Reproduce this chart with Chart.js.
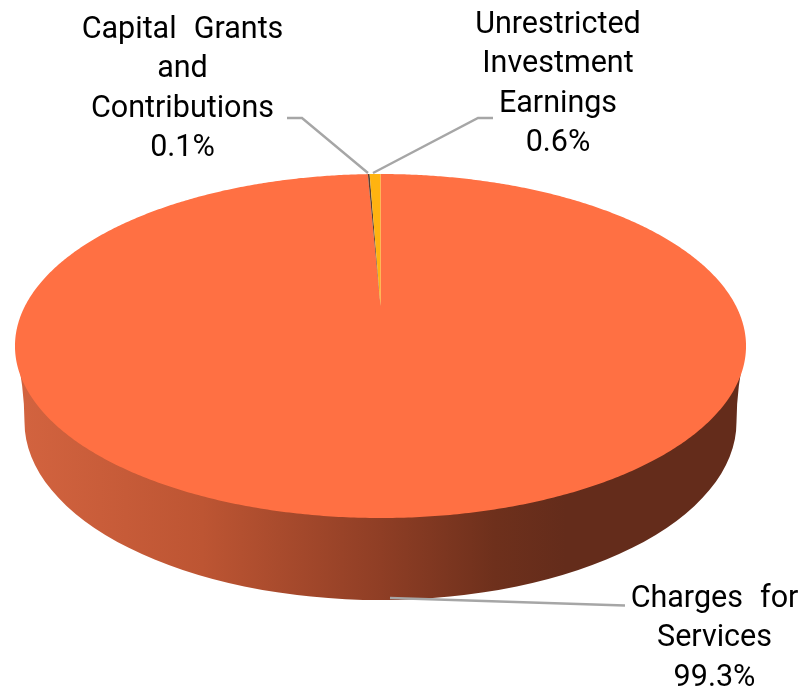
<!DOCTYPE html>
<html>
<head>
<meta charset="utf-8">
<title>Revenue sources</title>
<script src="https://cdn.jsdelivr.net/npm/chart.js@4/dist/chart.umd.js"></script>
<style>
    html, body { margin: 0; padding: 0; background: #fff; }
    canvas { display: block; }
</style>
</head>
<body>
<canvas id="pieChart" width="803" height="691"></canvas>
<script>
const categories = ['Charges for Services', 'Capital Grants and Contributions', 'Unrestricted Investment Earnings'];
const shares = [99.3, 0.1, 0.6];
const sliceColors = ['#FF7043', '#5D4030', '#FFB310'];
// wrapped the way the labels are wrapped in the picture
const labelLines = [
    ['Charges for', 'Services'],
    ['Capital Grants', 'and', 'Contributions'],
    ['Unrestricted', 'Investment', 'Earnings']
];

// where each label block sits: centre x, first baseline
const labelPos = [
    { x: 714.5, y: 607 },
    { x: 182.5, y: 38 },
    { x: 558, y: 33 }
];
const LINE_HEIGHT = 39.4;

// leader lines, from the pie out to the label
const leaders = [
    [[390, 598], [625, 605.5]],
    [[368, 173], [302, 118], [287, 118]],
    [[373, 173], [478, 118], [493, 118]]
];

// the lid of the pie is a circle seen in perspective, so the centre
// sits above the middle of the ellipse
const lid = { cx: 380.5, cy: 306, a: 355.5, b: 162.7, c: -0.2326 };
const rim = { cx: 380.5, cy: 422, rx: 356, ry: 178 };

function project(angle, r) {
    const u = Math.cos(angle) * r;
    const v = Math.sin(angle) * r;
    const w = 1 + lid.c * v;
    return [lid.cx + lid.a * u / w, lid.cy + lid.b * v / w];
}

function drawWall(ctx) {
    const grad = ctx.createLinearGradient(24, 0, 737, 0);
    grad.addColorStop(0, '#D2633F');
    grad.addColorStop(0.25, '#BD5533');
    grad.addColorStop(0.5, '#8F3E25');
    grad.addColorStop(0.66, '#6E301C');
    grad.addColorStop(0.76, '#642C1B');
    grad.addColorStop(1, '#642C1B');
    ctx.beginPath();
    ctx.moveTo(15, 345);
    ctx.quadraticCurveTo(rim.cx - rim.rx, 388, rim.cx - rim.rx, rim.cy);
    ctx.ellipse(rim.cx, rim.cy, rim.rx, rim.ry, 0, Math.PI, 0, true);
    ctx.quadraticCurveTo(rim.cx + rim.rx, 388, 746, 345);
    ctx.closePath();
    ctx.fillStyle = grad;
    ctx.fill();
}

function drawSlice(ctx, arc, color) {
    const { startAngle, endAngle } = arc.getProps(['startAngle', 'endAngle'], true);
    const steps = Math.max(2, Math.ceil((endAngle - startAngle) * 120));
    ctx.beginPath();
    ctx.moveTo(...project(0, 0));
    for (let i = 0; i <= steps; i++) {
        ctx.lineTo(...project(startAngle + (endAngle - startAngle) * i / steps, 1));
    }
    ctx.closePath();
    ctx.fillStyle = color;
    ctx.fill();
}

function drawLabels(ctx) {
    ctx.font = '30.5px Roboto';
    ctx.fillStyle = '#000';
    ctx.textAlign = 'center';
    ctx.textBaseline = 'alphabetic';
    ctx.wordSpacing = '9.5px';
    labelLines.forEach((lines, i) => {
        const pos = labelPos[i];
        lines.concat(shares[i].toFixed(1) + '%').forEach((line, j) => {
            ctx.fillText(line, pos.x, pos.y + j * LINE_HEIGHT);
        });
    });
    ctx.wordSpacing = '0px';
}

const pie3d = {
    id: 'pie3d',
    // replaces the flat arcs: same angles, projected onto the lid
    beforeDatasetDraw(chart) {
        const ctx = chart.ctx;
        const arcs = chart.getDatasetMeta(0).data;
        ctx.save();
        drawWall(ctx);
        arcs.forEach((arc, i) => drawSlice(ctx, arc, sliceColors[i]));

        ctx.strokeStyle = '#A6A6A6';
        ctx.lineWidth = 2.4;
        leaders.forEach(pts => {
            ctx.beginPath();
            pts.forEach((p, i) => i ? ctx.lineTo(p[0], p[1]) : ctx.moveTo(p[0], p[1]));
            ctx.stroke();
        });

        drawLabels(ctx);
        ctx.restore();
        return false;
    }
};

new Chart(document.getElementById('pieChart'), {
    type: 'pie',
    data: {
        labels: categories,
        datasets: [{ data: shares, backgroundColor: sliceColors, borderWidth: 0 }]
    },
    options: {
        responsive: false,
        animation: false,
        events: [],
        plugins: { legend: { display: false }, tooltip: { enabled: false } }
    },
    plugins: [pie3d]
});
</script>
</body>
</html>
